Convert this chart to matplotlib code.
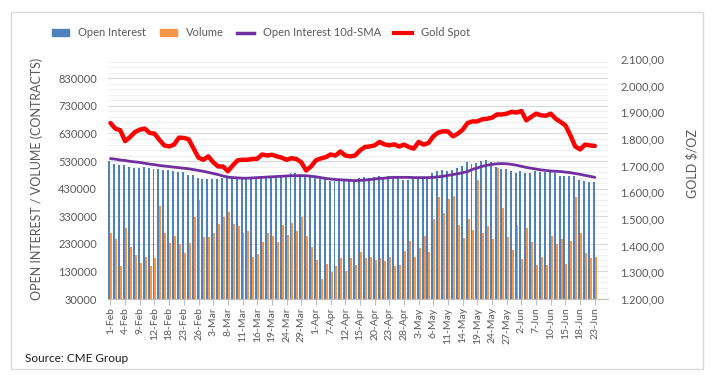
import numpy as np
import matplotlib.pyplot as plt
from matplotlib.patches import Patch, Rectangle
from matplotlib.lines import Line2D
from matplotlib.ticker import FuncFormatter

plt.rcParams['font.family'] = ['Lato', 'DejaVu Sans']

# every 3rd trading day, 1-Feb .. 23-Jun (100 sessions)
tick_labels = ['1-Feb', '4-Feb', '9-Feb', '12-Feb', '18-Feb', '23-Feb', '26-Feb',
               '3-Mar', '8-Mar', '11-Mar', '16-Mar', '19-Mar', '24-Mar', '29-Mar',
               '1-Apr', '7-Apr', '12-Apr', '15-Apr', '20-Apr', '23-Apr', '28-Apr',
               '3-May', '6-May', '11-May', '14-May', '19-May', '24-May', '27-May',
               '2-Jun', '7-Jun', '10-Jun', '15-Jun', '18-Jun', '23-Jun']

open_interest = [529000, 521000, 516000, 514000, 509000, 505000, 505000, 508000, 505000, 503000,
                 500000, 499000, 497000, 493000, 491000, 491000, 481000, 480000, 469000, 465000,
                 465000, 466000, 465000, 468000, 473000, 472000, 470000, 469000, 468000, 468000,
                 469000, 472000, 477000, 471000, 472000, 477000, 480000, 485000, 485000, 482000,
                 480000, 477000, 471000, 466000, 465000, 459000, 458000, 458000, 458000, 456000,
                 455000, 469000, 472000, 469000, 471000, 477000, 472000, 475000, 472000, 471000,
                 463000, 460000, 469000, 469000, 466000, 469000, 485000, 493000, 499000, 495000,
                 497000, 504000, 511000, 526000, 521000, 523000, 529000, 533000, 528000, 508000,
                 503000, 503000, 493000, 487000, 493000, 487000, 487000, 493000, 489000, 489000,
                 491000, 485000, 477000, 477000, 477000, 475000, 463000, 459000, 454000, 454000]

volume = [269000, 247000, 148000, 289000, 217000, 188000, 160000, 184000, 151000, 177000,
          366000, 269000, 232000, 260000, 229000, 198000, 232000, 329000, 388000, 254000,
          254000, 271000, 303000, 327000, 347000, 303000, 293000, 271000, 275000, 184000,
          192000, 238000, 271000, 257000, 238000, 298000, 263000, 305000, 278000, 327000,
          257000, 217000, 172000, 103000, 157000, 127000, 151000, 177000, 131000, 180000,
          154000, 202000, 178000, 184000, 172000, 177000, 166000, 184000, 148000, 155000,
          205000, 242000, 184000, 214000, 260000, 200000, 320000, 400000, 341000, 392000,
          402000, 298000, 251000, 320000, 281000, 463000, 271000, 293000, 247000, 505000,
          360000, 254000, 206000, 298000, 174000, 289000, 238000, 152000, 181000, 152000,
          260000, 229000, 249000, 156000, 242000, 400000, 271000, 198000, 177000, 184000]

oi_sma = [539000, 537000, 534000, 532000, 529000, 527000, 525000, 522000, 519000, 517000,
          514000, 512000, 510000, 508000, 506000, 504000, 502000, 499000, 496000, 493000,
          489000, 485000, 481000, 476000, 472000, 470000, 469000, 468000, 468000, 469000,
          470000, 471000, 472000, 473000, 474000, 475000, 476000, 477000, 477000, 477000,
          477000, 475000, 473000, 470000, 467000, 465000, 463000, 462000, 461000, 460000,
          459000, 460000, 461000, 463000, 465000, 467000, 468000, 470000, 471000, 471000,
          471000, 471000, 470000, 470000, 470000, 470000, 471000, 473000, 475000, 478000,
          481000, 484000, 488000, 492000, 500000, 505000, 511000, 515000, 518000, 520000,
          521000, 520000, 518000, 515000, 511000, 507000, 504000, 501000, 498000, 496000,
          494000, 493000, 492000, 490000, 488000, 485000, 482000, 478000, 475000, 471000]

gold = [1860, 1839, 1833, 1792, 1807, 1826, 1835, 1839, 1823, 1820,
        1797, 1776, 1772, 1779, 1805, 1804, 1799, 1764, 1730, 1722,
        1735, 1713, 1697, 1697, 1679, 1701, 1720, 1722, 1722, 1725,
        1726, 1742, 1738, 1741, 1735, 1730, 1722, 1728, 1725, 1713,
        1682, 1697, 1720, 1727, 1732, 1742, 1738, 1753, 1738, 1735,
        1738, 1757, 1770, 1772, 1776, 1789, 1780, 1776, 1780, 1772,
        1779, 1770, 1764, 1789, 1779, 1785, 1810, 1824, 1829, 1828,
        1810, 1820, 1835, 1860, 1866, 1866, 1874, 1876, 1880, 1892,
        1892, 1895, 1902, 1899, 1905, 1870, 1883, 1895, 1889, 1887,
        1895, 1876, 1864, 1851, 1814, 1772, 1761, 1779, 1776, 1774]

blue = '#4F81BD'
orange = '#F79646'
purple = '#7030A0'
red = '#FF0000'
grey_txt = '#595959'

x = np.arange(len(open_interest))

fig = plt.figure(figsize=(7.23, 3.82), dpi=100)
ax = fig.add_axes([108/723, 1 - 299/382, 500/723, 240/382])
ax2 = ax.twinx()

ax.bar(x - 0.2, open_interest, width=0.4, color=blue, zorder=2)
ax.bar(x + 0.2, volume, width=0.4, color=orange, zorder=2)
ax.plot(x, oi_sma, color=purple, lw=2, zorder=3, solid_capstyle='round')
ax2.plot(x, gold, color=red, lw=3.2, solid_capstyle='round', solid_joinstyle='round')

# left axis
ax.set_ylim(30000, 900000)
ax.set_yticks(np.arange(30000, 830001, 100000))
ax.set_yticks(np.arange(30000, 900000, 20000), minor=True)
ax.set_axisbelow(True)
ax.grid(which='major', axis='y', color='#D9D9D9', lw=0.8)
ax.grid(which='minor', axis='y', color='#EFEFEF', lw=0.8)
ax.tick_params(axis='y', which='both', length=0, pad=8, labelsize=8, labelcolor=grey_txt)

ax.set_xlim(-0.5, 101.7)
ax.set_xticks(x[::3])
ax.set_xticklabels(tick_labels, rotation=90)
ax.tick_params(axis='x', length=4, color='#BFBFBF', pad=2, labelsize=7.5, labelcolor=grey_txt)

for s in ['top', 'left', 'right']:
    ax.spines[s].set_visible(False)
ax.spines['bottom'].set_color('#BFBFBF')

# right axis
ax2.set_ylim(1200, 2100)
ax2.set_yticks(np.arange(1200, 2101, 100))
ax2.yaxis.set_major_formatter(FuncFormatter(
    lambda v, p: f'{v:,.2f}'.replace(',', ' ').replace('.', ',').replace(' ', '.')))
ax2.tick_params(axis='y', length=0, pad=9, labelsize=8, labelcolor=grey_txt)
for s in ax2.spines.values():
    s.set_visible(False)

fig.text(37/723, 1 - 179/382, 'OPEN INTEREST / VOLUME (CONTRACTS)', rotation=90,
         ha='center', va='center', fontsize=9, color=grey_txt)
fig.text(692/723, 1 - 163/382, 'GOLD $/OZ', rotation=90,
         ha='center', va='center', fontsize=9, color=grey_txt)

handles = [Patch(color=blue), Patch(color=orange),
           Line2D([], [], color=purple, lw=2.5), Line2D([], [], color=red, lw=3)]
names = ['Open Interest', 'Volume', 'Open Interest 10d-SMA', 'Gold Spot']
fig.legend(handles, names, ncol=4, loc='center', bbox_to_anchor=(261/723, 1 - 33/382),
           frameon=False, fontsize=8, handlelength=1.55, handleheight=0.6,
           handletextpad=0.8, columnspacing=1.2, labelcolor=grey_txt)

fig.text(25/723, 1 - 358/382, 'Source: CME Group', ha='left', va='center',
         fontsize=8.5, color='#1A1A1A')

fig.add_artist(Rectangle((11/723, 1 - 369/382), 692/723, 357/382,
                         transform=fig.transFigure, fill=False, ec='#D9D9D9', lw=1))

fig.savefig('out.png', dpi=100)
